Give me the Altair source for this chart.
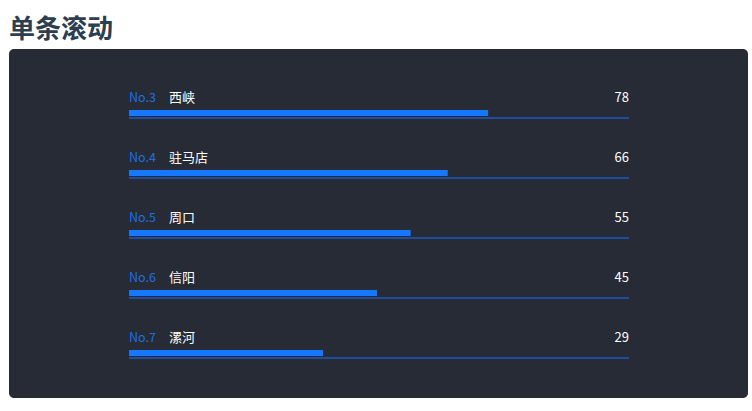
import altair as alt
import pandas as pd

ranks = [3, 4, 5, 6, 7]
labels = ["No.3", "No.4", "No.5", "No.6", "No.7"]
names = ["西峡", "驻马店", "周口", "信阳", "漯河"]
values = [78, 66, 55, 45, 29]

df = pd.DataFrame({"rank": ranks, "label": labels, "name": names, "value": values})

FONT = "Noto Sans CJK SC"
xs = alt.Scale(domain=[-28.6, 119.8], range=[120, 620])
ys = alt.Scale(domain=[3, 7], range=[61, 301])

base = alt.Chart(df)
y = alt.Y("rank:Q", scale=ys, axis=None)

track = base.mark_rule(color="#1f4c9e", strokeWidth=2, yOffset=8).encode(
    x=alt.value(120), x2=alt.value(620), y=y
)
bars = base.mark_rule(color="#1677ff", strokeWidth=6, yOffset=3).encode(
    x=alt.X("value:Q", scale=xs, axis=None), x2=alt.value(120), y=y
)
lab = base.mark_text(align="left", baseline="middle", dy=-12, font=FONT, fontSize=12.5, color="#1f6fe0").encode(
    x=alt.value(120), y=y, text="label:N"
)
nm = base.mark_text(align="left", baseline="middle", dy=-12, font=FONT, fontSize=13, color="#ffffff").encode(
    x=alt.value(160), y=y, text="name:N"
)
val = base.mark_text(align="right", baseline="middle", dy=-12, font=FONT, fontSize=13, color="#ffffff").encode(
    x=alt.value(620), y=y, text="value:Q"
)

chart = alt.layer(track, bars, lab, nm, val).properties(
    width=739, height=349,
    title=alt.TitleParams("单条滚动", anchor="start", fontSize=26, fontWeight="bold",
                          color="#2c3e50", font=FONT, offset=6),
    padding={"left": 9, "top": 49, "right": 4, "bottom": 13},
    autosize=alt.AutoSizeParams(type="none"),
    background="#ffffff",
).configure_view(fill="#262b35", stroke=None, cornerRadius=5)

chart.save("out.html", embed_options={"renderer": "svg", "actions": False})
